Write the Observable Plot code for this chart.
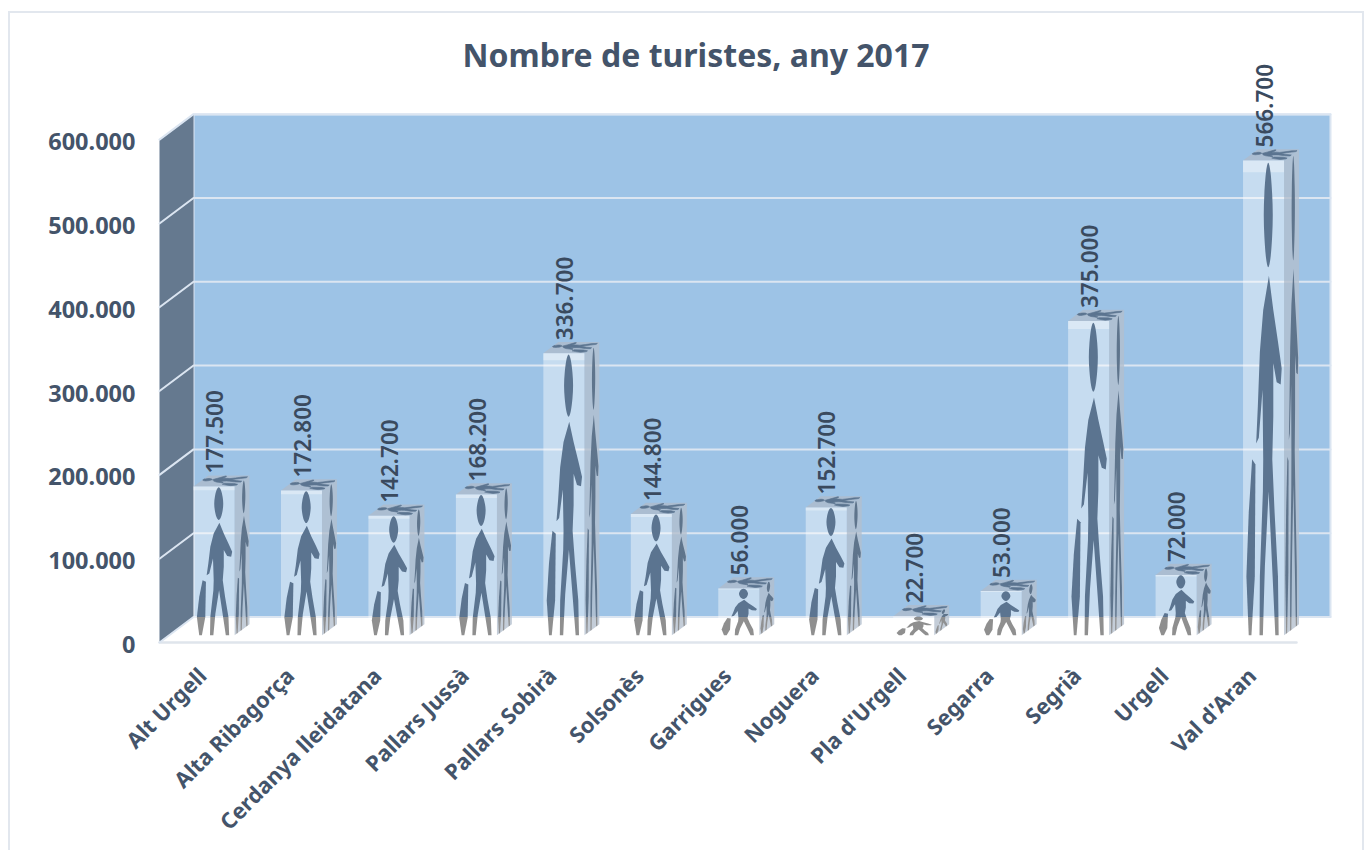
<!DOCTYPE html>
<html><head><meta charset="utf-8">
<script src="https://cdn.jsdelivr.net/npm/d3@7"></script>
<script src="https://cdn.jsdelivr.net/npm/@observablehq/plot@0.6"></script>
<style>
html,body{margin:0;padding:0;background:#fff;overflow:hidden}
#frame{position:absolute;left:8px;top:11px;width:1356px;height:860px;border:2px solid #e2e7ee;box-sizing:border-box;background:#fff}
#title{position:absolute;left:0;top:33px;width:1392px;text-align:center;font:700 32px "Noto Sans",sans-serif;color:#44546a;line-height:44px;z-index:2}
#chart{position:absolute;left:0;top:58px;z-index:1}
svg{overflow:visible}
</style></head><body>
<div id="frame"></div>
<div id="title">Nombre de turistes, any 2017</div>
<div id="chart"></div>
<script>
const categories = ["Alt Urgell","Alta Ribagorça","Cerdanya lleidatana","Pallars Jussà","Pallars Sobirà","Solsonès","Garrigues","Noguera","Pla d'Urgell","Segarra","Segrià","Urgell","Val d'Aran"];
const tourists = [177500,172800,142700,168200,336700,144800,56000,152700,22700,53000,375000,72000,566700];
const yTicks = [0,100000,200000,300000,400000,500000,600000];

// Silhouette of the walking tourist, in face units (u across, v up)
const personHead = [[.615,.995],[.67,.975],[.71,.93],[.725,.885],[.71,.84],[.67,.795],[.615,.775],[.56,.795],[.52,.84],[.505,.885],[.52,.93],[.56,.975]];
const personBody = [[.631,.757],[.738,.685],[.852,.618],[.943,.562],[.918,.528],[.82,.533],[.738,.573],[.738,.461],[.713,.371],[.77,.258],[.852,.124],[.869,0],[.787,0],[.721,.124],[.623,.303],[.533,.146],[.484,0],[.402,0],[.41,.124],[.484,.303],[.492,.371],[.475,.517],[.385,.416],[.32,.404],[.361,.483],[.41,.596],[.492,.685]];
const personCase = [[.221,.371],[.303,.36],[.287,.124],[.205,0],[.139,0],[.082,.124],[.139,.258]];
const person = [personHead, personBody, personCase];

const fmt = v => d3.format(",")(v).replace(/,/g,".");
const DX = 0.389, DY = 30430;               // full depth of the box in scale units
const BAR_L = -0.22, BAR_W = 0.469, D0 = 0.28, D1 = 0.72;
const XMIN = -0.5, XMAX = 12.5, YTOP = 630000;
const proj = (x, y, d) => ({x: x + d*DX, y: y + d*DY});

const addPoly = (arr, key, pts) => pts.forEach(p => arr.push({key, x:p.x, y:p.y}));

const fronts=[], sides=[], tops=[], capBands=[], figF=[], figFH=[], figS=[], figSH=[], figT=[], figTH=[];
tourists.forEach((v,i)=>{
  const l=i+BAR_L, r=l+BAR_W;
  addPoly(fronts,i,[proj(l,0,D0),proj(r,0,D0),proj(r,v,D0),proj(l,v,D0)]);
  addPoly(capBands,i,[proj(l,v*.975,D0),proj(r,v*.975,D0),proj(r,v,D0),proj(l,v,D0)]);
  addPoly(sides,i,[proj(r,0,D0),proj(r,0,D1),proj(r,v,D1),proj(r,v,D0)]);
  addPoly(tops,i,[proj(l,v,D0),proj(r,v,D0),proj(r,v,D1),proj(l,v,D1)]);
  const front=([a,b])=>proj(l+a*BAR_W,b*v,D0);
  const side =([a,b])=>proj(r,b*v,D0+a*(D1-D0));
  const top  =([a,b])=>proj(r-b*BAR_W,v,D0+a*(D1-D0));
  person.forEach((shape,k)=>{
    const key=i+"-"+k, isHead=k===0;
    addPoly(isHead?figFH:figF,key,shape.map(front));
    addPoly(isHead?figSH:figS,key,shape.map(side));
    addPoly(isHead?figTH:figT,key,shape.map(top));
  });
});

const wallBack=[proj(XMIN,0,1),proj(XMAX,0,1),proj(XMAX,YTOP-DY,1),proj(XMIN,YTOP-DY,1)].map(p=>({...p,key:"w"}));
const wallLeft=[proj(XMIN,0,0),proj(XMIN,0,1),proj(XMIN,YTOP-DY,1),proj(XMIN,YTOP-DY,0)].map(p=>({...p,key:"l"}));
const floorEdge=[proj(XMIN,0,0),proj(XMAX,0,0)];
const grid=[];
yTicks.forEach(t=>{ addPoly(grid,t,[proj(XMIN,t,0),proj(XMIN,t,1),proj(XMAX,t,1)]); });

const poly=(d,o)=>Plot.line(d,{x:"x",y:"y",z:"key",curve:"linear-closed",stroke:null,...o});

const gradient=(id,top,bottom)=>(index,{y})=>{
  const ns="http://www.w3.org/2000/svg";
  const defs=document.createElementNS(ns,"defs");
  const g=document.createElementNS(ns,"linearGradient");
  g.setAttribute("id",id);g.setAttribute("gradientUnits","userSpaceOnUse");
  g.setAttribute("x1",0);g.setAttribute("x2",0);g.setAttribute("y1",0);g.setAttribute("y2",y(-DY*.5));
  const edge=y(DY)/y(-DY*.5);
  [[edge,top],[edge,bottom]].forEach(([o,c])=>{const s=document.createElementNS(ns,"stop");s.setAttribute("offset",o);s.setAttribute("stop-color",c);g.appendChild(s);});
  defs.appendChild(g);return defs;
};

const W=1372, H=792;
const plot=Plot.plot({
  width:W,height:H,
  marginLeft:159,marginRight:42,marginTop:56,marginBottom:H-584,
  style:{background:"transparent",overflow:"visible",fontFamily:"'Noto Sans',sans-serif"},
  x:{type:"linear",domain:[XMIN,XMAX+DX],axis:null},
  y:{type:"linear",domain:[0,YTOP],axis:null},
  marks:[
    gradient("figFront","#5b7490","#8f8f8f"),
    gradient("figSide","#566c84","#8a8a8a"),
    poly(wallBack,{fill:"#9dc3e6",stroke:"#dbe5f1",strokeWidth:2}),
    poly(wallLeft,{fill:"#65798f"}),
    Plot.line(floorEdge,{x:"x",y:"y",stroke:"#dfe5ec",strokeWidth:2.5}),
    Plot.line(grid,{x:"x",y:"y",z:"key",stroke:"#dbe5f1",strokeWidth:2}),
    poly(sides,{fill:"#b3bfcd",fillOpacity:.78}),
    poly(figS,{fill:"url(#figSide)",fillOpacity:.9}),
    poly(figSH,{fill:"url(#figSide)",fillOpacity:.9,curve:"cardinal-closed"}),
    poly(tops,{fill:"#abbdd1"}),
    poly(figT,{fill:"#5b7490",stroke:"#5b7490",strokeWidth:.8,strokeOpacity:.8}),
    poly(figTH,{fill:"#5b7490",stroke:"#5b7490",strokeWidth:.8,strokeOpacity:.8,curve:"cardinal-closed"}),
    poly(fronts,{fill:"#ffffff",fillOpacity:.42}),
    poly(capBands,{fill:"#ffffff",fillOpacity:.35}),
    poly(figF,{fill:"url(#figFront)"}),
    poly(figFH,{fill:"url(#figFront)",curve:"cardinal-closed"}),
    Plot.text(tourists.map((v,i)=>({i,v})),{
      x:d=>d.i+BAR_L+BAR_W/2+D0*DX, y:d=>d.v+D0*DY, text:d=>fmt(d.v),
      rotate:-90,textAnchor:"start",dy:-13,dx:2,fontSize:22.5,fontWeight:600,fill:"#3a4a5e"
    }),
    Plot.axisY({ticks:yTicks,tickFormat:fmt,tickSize:0,tickPadding:24,dy:3,label:null,fontSize:23.5,fontWeight:700,color:"#44546a"}),
    Plot.axisX({ticks:d3.range(categories.length),tickFormat:i=>categories[i],tickSize:0,tickPadding:30,tickRotate:-45,label:null,fontSize:21.8,fontWeight:700,color:"#44546a"})
  ]
});
document.getElementById("chart").appendChild(plot);
</script>
</body></html>
